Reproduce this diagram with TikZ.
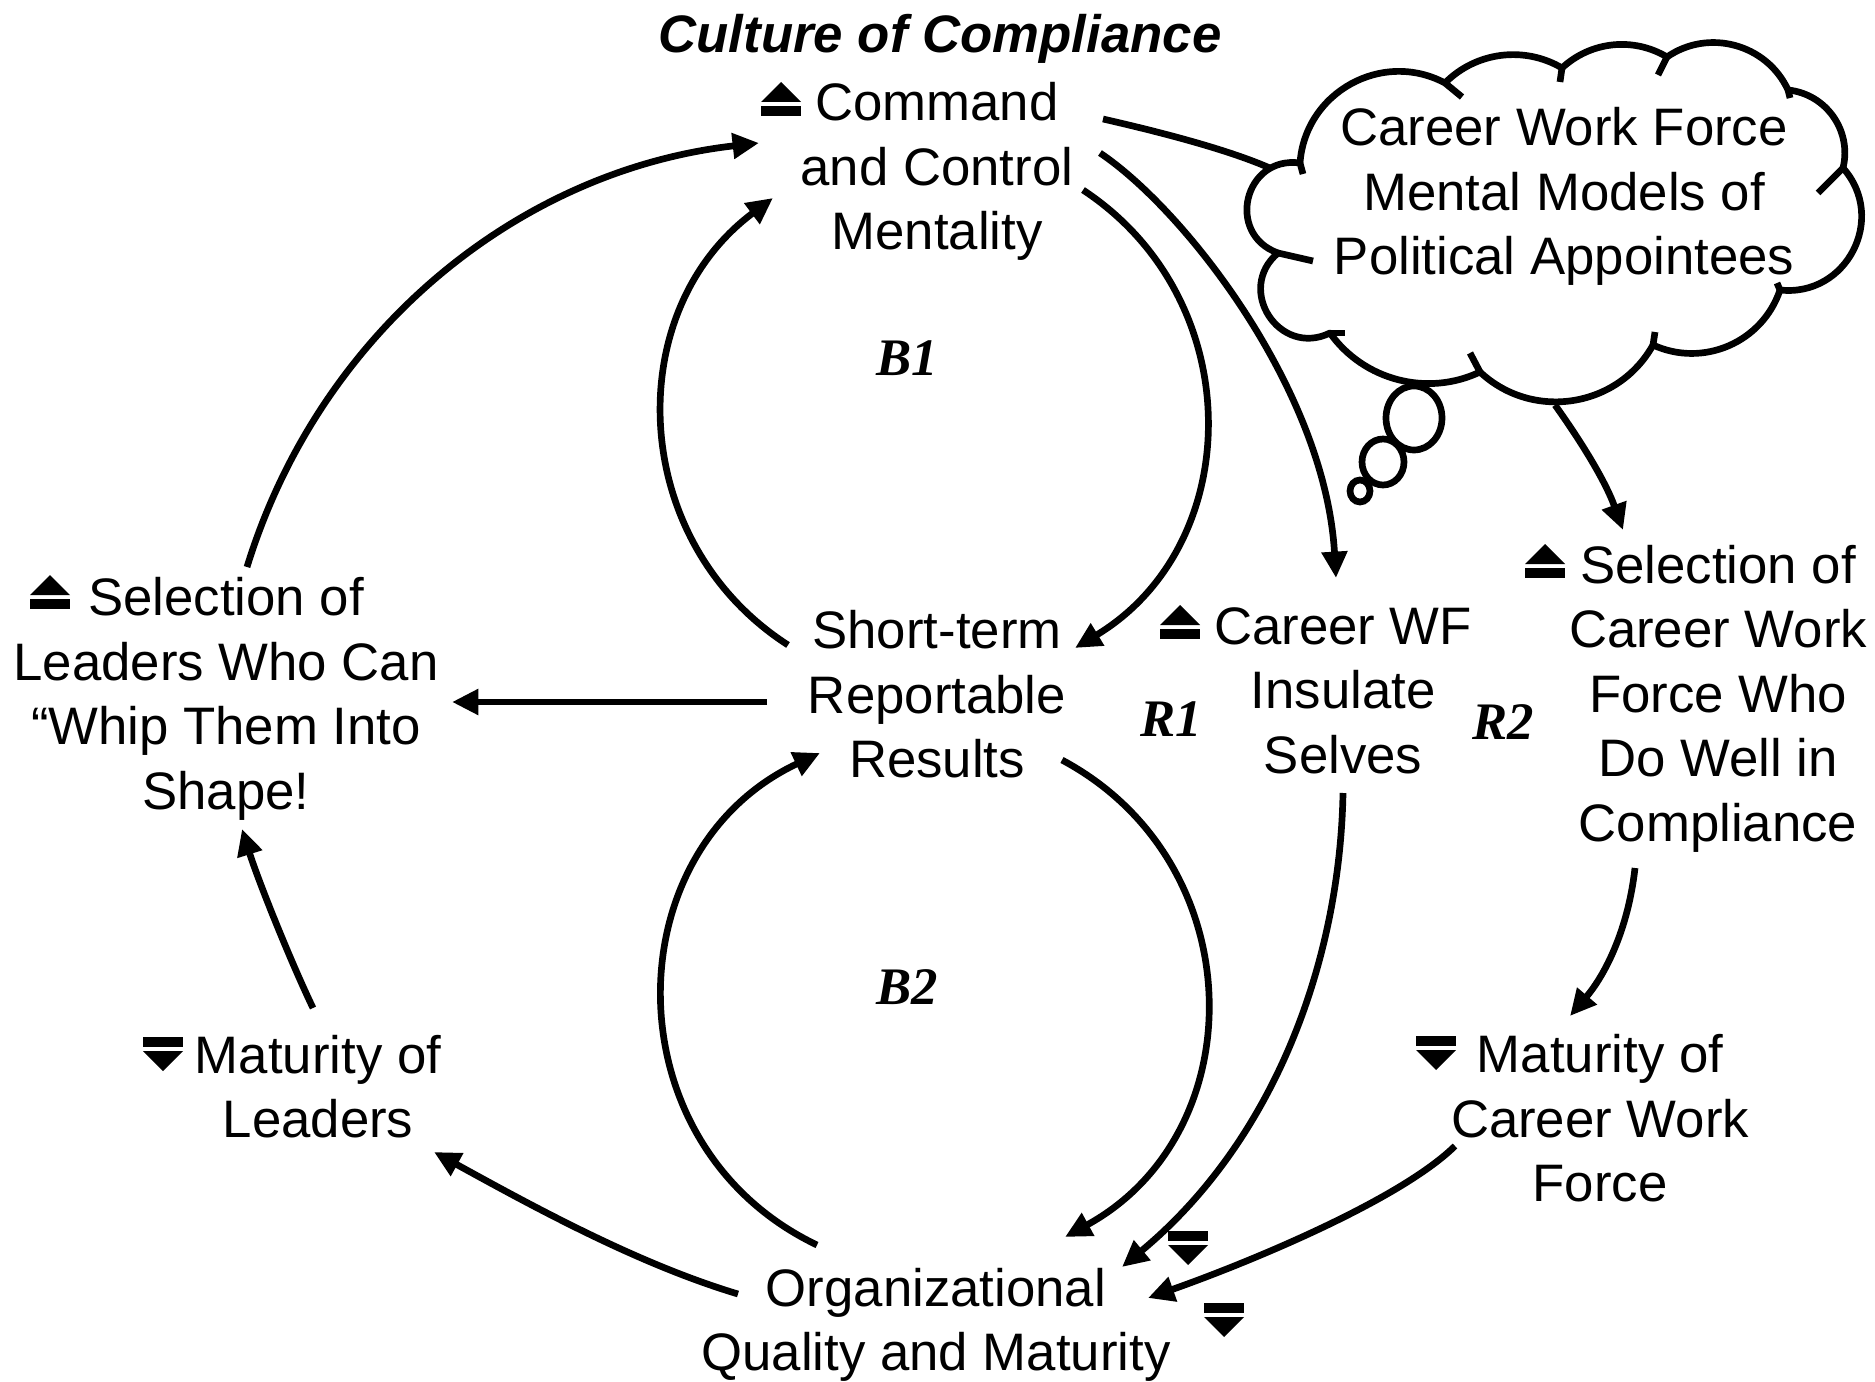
\documentclass[tikz,border=0pt]{standalone}
\usepackage{fontspec}
\setmainfont{Liberation Sans}
\newfontfamily\labfont{Liberation Serif}
\usetikzlibrary{arrows.meta}
\newcommand\upmark[2]{%
  \fill (#1+20,#2) -- (#1+40,#2+20) -- (#1,#2+20) -- cycle;
  \fill (#1,#2+24) rectangle (#1+40,#2+34);}
\newcommand\downmark[2]{%
  \fill (#1,#2) rectangle (#1+40,#2+10);
  \fill (#1,#2+14) -- (#1+40,#2+14) -- (#1+20,#2+34) -- cycle;}
\begin{document}
\begin{tikzpicture}[x=0.01cm, y=-0.01cm,
  plain/.style={line width=1.9pt},
  conn/.style={line width=1.9pt, -{Triangle[length=7.5pt,width=7pt]}},
  var/.style={font=\fontsize{15}{18.35}\selectfont, align=center, inner sep=0pt,
    execute at begin node=\strut, execute at end node=\strut},
  looplab/.style={font=\labfont\fontsize{15}{18}\selectfont\bfseries\itshape, inner sep=0pt},
]
\useasboundingbox (0,0) rectangle (1875,1382);

% variables
\node[var, font=\fontsize{15}{18.35}\selectfont\bfseries\itshape] (title) at (940,40) {Culture of Compliance};
\node[var] (cmd) at (937,176) {Command\\and Control\\Mentality};
\node[var] (srt) at (937,704) {Short-term\\Reportable\\Results};
\node[var] (org) at (936,1329) {Organizational\\Quality and Maturity};
\node[var] (sel) at (226,703) {Selection of\\Leaders Who Can\\“Whip Them Into\\Shape!};
\node[var] (matl) at (318,1096) {Maturity of\\Leaders};
\node[var] (cwf) at (1343,700) {Career WF\\Insulate\\Selves};
\node[var] (selc) at (1718,703) {Selection of\\Career Work\\Force Who\\Do Well in\\Compliance};
\node[var] (matc) at (1600,1128) {Maturity of\\Career Work\\Force};
\node[var] (cloud) at (1564,201) {Career Work Force\\Mental Models of\\Political Appointees};

% loop labels
\node[looplab] (b1) at (907,358) {B1};
\node[looplab] (b2) at (907,987) {B2};
\node[looplab] (r1) at (1171,719) {R1};
\node[looplab] (r2) at (1503,722) {R2};

% up / down marks
\upmark{761}{82}
\upmark{30}{575}
\upmark{1160}{605}
\upmark{1525}{544}
\downmark{143}{1037}
\downmark{1416}{1036}
\downmark{1168}{1231}
\downmark{1204}{1303}

% cloud outline
\draw[plain, line join=round]
  (1300,163) to[bend right=84, looseness=1.55] (1278,253)
  to[bend right=83, looseness=1.51] (1330,333)
  to[bend right=40, looseness=0.96] (1480,372)
  to[bend right=52, looseness=1.05] (1653,345)
  to[bend right=48, looseness=1.02] (1780,290)
  to[bend right=69, looseness=1.25] (1843,168)
  to[bend right=49, looseness=1.03] (1788,90)
  to[bend right=50, looseness=1.03] (1667,57)
  to[bend right=37, looseness=0.95] (1562,68)
  to[bend right=38, looseness=0.95] (1445,83)
  to[bend right=57, looseness=1.10] (1300,163);
% inner ticks of the cloud lobes
\draw[plain] (1300,163) -- (1303,174);
\draw[plain] (1278,253) -- (1313,261);
\draw[plain] (1330,333) -- (1345,333);
\draw[plain] (1480,372) -- (1470,353);
\draw[plain] (1653,345) -- (1655,332);
\draw[plain] (1780,290) -- (1777,283);
\draw[plain] (1843,168) -- (1818,193);
\draw[plain] (1788,90) -- (1790,98);
\draw[plain] (1667,57) -- (1658,75);
\draw[plain] (1562,68) -- (1560,82);
\draw[plain] (1445,83) -- (1462,97);
% thought bubbles
\draw[plain] (1414,418) ellipse [x radius=28, y radius=32];
\draw[plain] (1383,462) ellipse [x radius=21, y radius=23];
\draw[plain] (1360,491) ellipse [x radius=10, y radius=11];

% connectors
\draw[conn] ([shift={(21,-136)}]sel.center) .. controls (320,330) and (520,170) .. ([shift={(-178,-33)}]cmd.center);
\draw[conn] ([shift={(-149,-59)}]srt.center) .. controls (628,542) and (620,312) .. ([shift={(-164,22)}]cmd.center);
\draw[conn] ([shift={(146,14)}]cmd.center) .. controls (1250,300) and (1246,545) .. ([shift={(138,-56)}]srt.center);
\draw[conn] ([shift={(-170,-2)}]srt.center) -- ([shift={(226,-1)}]sel.center);
\draw[conn] ([shift={(-119,-84)}]org.center) .. controls (610,1146) and (613,850) .. ([shift={(-117,49)}]srt.center);
\draw[conn] ([shift={(125,56)}]srt.center) .. controls (1253,862) and (1255,1133) .. ([shift={(129,-92)}]org.center);
\draw[conn] ([shift={(-198,-35)}]org.center) .. controls (638,1264) and (534,1207) .. ([shift={(116,56)}]matl.center);
\draw[conn] ([shift={(-5,-88)}]matl.center) .. controls (290,960) and (258,880) .. ([shift={(16,126)}]sel.center);
\draw[plain] ([shift={(166,-57)}]cmd.center) .. controls (1160,132) and (1230,150) .. ([shift={(-292,-32)}]cloud.center);
\draw[conn] ([shift={(163,-23)}]cmd.center) .. controls (1185,210) and (1325,390) .. ([shift={(-7,-122)}]cwf.center);
\draw[conn] ([shift={(-9,204)}]cloud.center) .. controls (1580,440) and (1605,480) .. ([shift={(-95,-173)}]selc.center);
\draw[conn] ([shift={(-83,165)}]selc.center) .. controls (1628,930) and (1605,975) .. ([shift={(-30,-112)}]matc.center);
\draw[conn] ([shift={(0,93)}]cwf.center) .. controls (1340,960) and (1275,1140) .. ([shift={(186,-62)}]org.center);
\draw[conn] ([shift={(-145,18)}]matc.center) .. controls (1400,1200) and (1250,1262) .. ([shift={(212,-31)}]org.center);
\end{tikzpicture}
\end{document}
